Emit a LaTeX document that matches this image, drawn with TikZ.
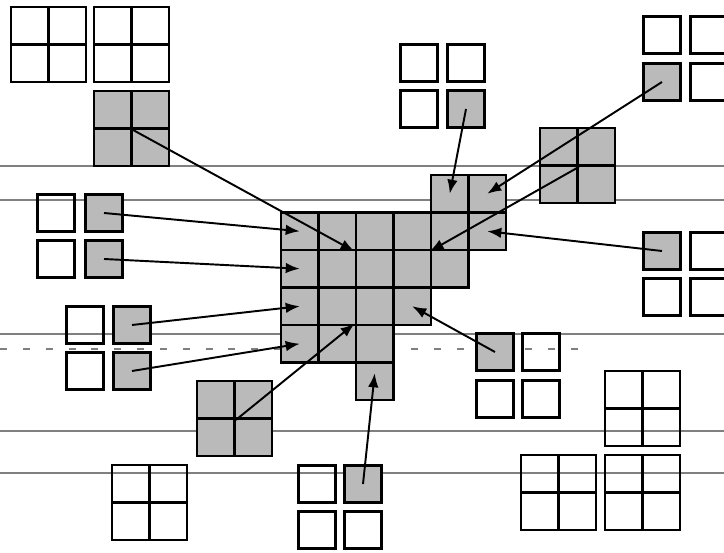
\documentclass[tikz,border=0pt]{standalone}
\usepackage{tikz}
\usetikzlibrary{arrows.meta, positioning, calc}

\begin{document}
\begin{tikzpicture}[
  x=0.02cm, y=-0.02cm,
  cell/.style   = {rectangle, draw=black, line width=1.6pt, minimum size=0.75cm, inner sep=0pt},
  shaded/.style = {cell, fill=black!27},
  arrow/.style  = {line width=1.1pt, -{Latex[length=8pt,width=6pt]}},
  scan/.style   = {gray, line width=0.6pt}
]
\useasboundingbox (0,0) rectangle (724,553);

% scanner lines across the page
\foreach \yy in {166,200,334,431,473}
  \draw[scan] (0,\yy) -- (724,\yy);
\draw[scan, dash pattern=on 4pt off 9pt] (0,349) -- (582,349);

% central grid
\foreach \c/\r in {4/0,5/0, 0/1,1/1,2/1,3/1,4/1,5/1, 0/2,1/2,2/2,3/2,4/2,
                   0/3,1/3,2/3,3/3, 0/4,1/4,2/4, 2/5}
  \node[shaded] (g-\c-\r) at ({299.75+37.5*\c},{193.75+37.5*\r}) {};

% 2x2 blocks
\foreach \bx/\by/\nm in {11/7/wa, 94/7/wb, 112/465/wc, 605/371/wd, 521/455/we, 605/455/wf}
  \foreach \i in {0,1}
    \foreach \j in {0,1}
      \node[cell] (\nm-\i\j) at ({\bx+18.75+37.5*\i},{\by+18.75+37.5*\j}) {};
\foreach \bx/\by/\nm in {94/91/sa, 540/128/sb, 197/381/sc}
  \foreach \i in {0,1}
    \foreach \j in {0,1}
      \node[shaded] (\nm-\i\j) at ({\bx+18.75+37.5*\i},{\by+18.75+37.5*\j}) {};

% loose cells, top middle
\node[cell]   (tm1) at (419,63)  {};
\node[cell]   (tm2) at (466,63)  {};
\node[cell]   (tm3) at (419,109) {};
\node[shaded] (tm4) at (466,109) {};
% top right
\node[cell]   (tr1) at (662,35)  {};
\node[cell]   (tr2) at (709,35)  {};
\node[shaded] (tr3) at (662,82)  {};
\node[cell]   (tr4) at (709,82)  {};
% left middle
\node[cell]   (lm1) at (56,213)  {};
\node[shaded] (lm2) at (104,213) {};
\node[cell]   (lm3) at (56,259)  {};
\node[shaded] (lm4) at (104,259) {};
% left lower
\node[cell]   (ll1) at (85,325)  {};
\node[shaded] (ll2) at (132,325) {};
\node[cell]   (ll3) at (85,371)  {};
\node[shaded] (ll4) at (132,371) {};
% bottom middle
\node[cell]   (bm1) at (317,484) {};
\node[shaded] (bm2) at (363,484) {};
\node[cell]   (bm3) at (317,530) {};
\node[cell]   (bm4) at (363,530) {};
% right middle
\node[shaded] (rm1) at (495,352) {};
\node[cell]   (rm2) at (541,352) {};
\node[cell]   (rm3) at (495,399) {};
\node[cell]   (rm4) at (541,399) {};
% right
\node[shaded] (rr1) at (662,251) {};
\node[cell]   (rr2) at (709,251) {};
\node[cell]   (rr3) at (662,297) {};
\node[cell]   (rr4) at (709,297) {};

% moves into the grid
\draw[arrow] (sa-00.south east) -- (g-2-1.south west);
\draw[arrow] (lm2.center) -- (g-0-1.center);
\draw[arrow] (lm4.center) -- (g-0-2.center);
\draw[arrow] (ll2.center) -- (g-0-3.center);
\draw[arrow] (ll4.center) -- (g-0-4.center);
\draw[arrow] (sc-00.south east) -- (g-2-4.north west);
\draw[arrow] (bm2.center) -- ($(g-2-5.center)+(0,-8)$);
\draw[arrow] (rm1.center) -- (g-3-3.center);
\draw[arrow] (rr1.center) -- (g-5-1.center);
\draw[arrow] (sb-00.south east) -- (g-4-1.south west);
\draw[arrow] (tr3.center) -- (g-5-0.center);
\draw[arrow] (tm4.center) -- (g-4-0.center);

\end{tikzpicture}
\end{document}
